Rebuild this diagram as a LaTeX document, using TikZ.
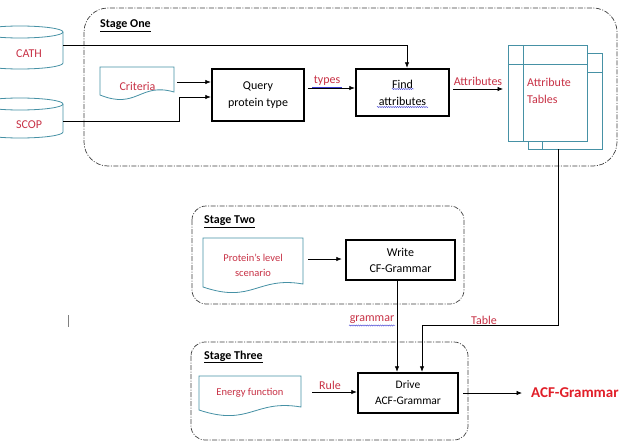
\documentclass[tikz,border=0pt]{standalone}
\usepackage{fontspec}
\setmainfont{Carlito}
\usetikzlibrary{arrows.meta,decorations.pathmorphing}
\definecolor{txtred}{RGB}{200,50,70}
\definecolor{brightred}{RGB}{225,30,40}
\definecolor{tealc}{RGB}{70,145,165}
\definecolor{squig}{RGB}{60,60,210}
\begin{document}
\begin{tikzpicture}[x=1pt,y=-1pt,
  stagebox/.style={draw=black!75, line width=0.7pt, dash pattern=on 5pt off 1.5pt on 1pt off 1.5pt},
  procbox/.style={draw=black, line width=2.4pt, align=center, inner sep=0pt, font=\fontsize{12}{17}\selectfont},
  conn/.style={line width=0.75pt, draw=black},
  arr/.style={conn, -{Latex[length=5.5pt,width=4.5pt]}},
  redlbl/.style={text=txtred, font=\fontsize{12}{14}\selectfont, inner sep=0pt},
  smallred/.style={text=txtred, font=\fontsize{10.5}{15}\selectfont, inner sep=0pt, align=center},
  stagelbl/.style={font=\bfseries\fontsize{12}{14}\selectfont, anchor=west, inner sep=0pt},
  tealline/.style={draw=tealc, line width=0.8pt},
  squiggle/.style={draw=squig, line width=0.4pt, decorate, decoration={snake, amplitude=0.6pt, segment length=2.2pt}},
]
\useasboundingbox (0,0) rectangle (623,444);
\fill[white] (0,0) rectangle (623,444);

% stage frames
\draw[stagebox, rounded corners=24pt] (84,8) rectangle (617,166);
\draw[stagebox, rounded corners=14pt] (192,206) rectangle (464,304);
\draw[stagebox, rounded corners=14pt] (191,342) rectangle (468,440);

\node[stagelbl] (s1) at (100,26) {\underline{Stage One}};
\node[stagelbl] (s2) at (204,222) {\underline{Stage Two}};
\node[stagelbl] (s3) at (204,357) {\underline{Stage Three}};

% databases
\draw[tealline, fill=white] (-23,32) -- (-23,63) arc[start angle=180, end angle=0, x radius=43, y radius=6] -- (63,32);
\draw[tealline, fill=white] (20,32) ellipse [x radius=43, y radius=6];
\node[redlbl] (cath) at (29,54) {CATH};
\draw[tealline, fill=white] (-23,104) -- (-23,132) arc[start angle=180, end angle=0, x radius=43, y radius=6] -- (63,104);
\draw[tealline, fill=white] (20,104) ellipse [x radius=43, y radius=6];
\node[redlbl] (scop) at (29,125) {SCOP};
\coordinate (cathR) at (63,45);
\coordinate (scopR) at (63,121);

% documents
\draw[tealline, fill=white] (174,92) -- (174,67) -- (100,67) -- (100,95) .. controls (137,110) and (140,82) .. (174,92) -- cycle;
\node[redlbl] (crit) at (137.5,86) {Criteria};
\coordinate (critR) at (177,82);

\draw[tealline, fill=white] (303,284) -- (303,238) -- (203,238) -- (203,287) .. controls (253,304) and (257,276) .. (303,284) -- cycle;
\node[smallred] (prot) at (253,265) {Protein's level\\scenario};
\coordinate (protR) at (308,259);

\draw[tealline, fill=white] (301,407) -- (301,376) -- (199,376) -- (199,410) .. controls (250,427) and (254,399) .. (301,407) -- cycle;
\node[smallred] (energy) at (250,393) {Energy function};
\coordinate (energyR) at (312,392);

% process boxes
\node[procbox, minimum width=92pt, minimum height=52pt] (qry) at (258,95) {Query\\protein type};
\node[procbox, minimum width=93pt, minimum height=47pt] (find) at (402.5,92.5) {Find\\attributes};
\node[procbox, minimum width=109pt, minimum height=40pt, font=\fontsize{12}{16}\selectfont] (write) at (400.5,260) {Write\\CF-Grammar};
\node[procbox, minimum width=100pt, minimum height=40pt, font=\fontsize{11.5}{16}\selectfont] (drive) at (408,393) {Drive\\ACF-Grammar};

% attribute tables
\draw[tealline, fill=white] (528,53) rectangle (602,149);
\draw[tealline] (542,53) -- (542,149);
\draw[tealline] (528,72) -- (602,72);
\draw[tealline, fill=white] (508,45) rectangle (587,141);
\draw[tealline] (523,45) -- (523,141);
\draw[tealline] (508,64) -- (587,64);
\node[redlbl, align=left, anchor=west, font=\fontsize{12}{17}\selectfont] (attab) at (527,90.5) {Attribute\\Tables};
\coordinate (attabS) at (558,149);
\coordinate (attabW) at (503,89);

% connectors
\draw[arr] (cathR) -| ([xshift=4.5pt]find.north);
\draw[arr] (critR) -- (qry.west |- critR);
\draw[arr] (scopR) -- (179,121) -- (179,97) -- (qry.west |- 0,97);
\draw[arr] ([xshift=3pt]qry.east |- 0,88) -- (find.west |- 0,88);
\draw[arr] ([xshift=3pt]find.east |- attabW) -- (attabW);
\draw[arr] (protR) -- ([xshift=-3pt]write.west |- protR);
\draw[arr] (energyR) -- (drive.west |- energyR);
\draw[arr] (write.south -| 397,0) -- (drive.north -| 397,0);
\draw[arr] (attabS) -- (558,325) -- (422,325) -- (drive.north -| 422,0);
\coordinate (acfL) at (522,393);
\draw[arr] ([xshift=4pt]drive.east) -- (acfL);

% labels
\node[redlbl] (types) at (327,81) {types};
\node[redlbl] (attrlbl) at (478,81) {Attributes};
\node[redlbl] (gram) at (372,320) {grammar};
\node[redlbl] (tbl) at (484,320) {Table};
\node[redlbl] (rule) at (330,385) {Rule};
\node[text=brightred, font=\bfseries\fontsize{15}{18}\selectfont, inner sep=0pt, anchor=west] (acf) at (531,393) {ACF-Grammar};

% spelling underlines
\draw[squig, line width=0.5pt] (312,87.5) -- (342,87.5);
\draw[squiggle] (392,89) -- (414,89);
\draw[squiggle] (377,107) -- (428,107);
\draw[squiggle] (349,325.5) -- (395,325.5);

% cursor mark
\draw[gray, line width=0.8pt] (68,315) -- (68,327);
\end{tikzpicture}
\end{document}
